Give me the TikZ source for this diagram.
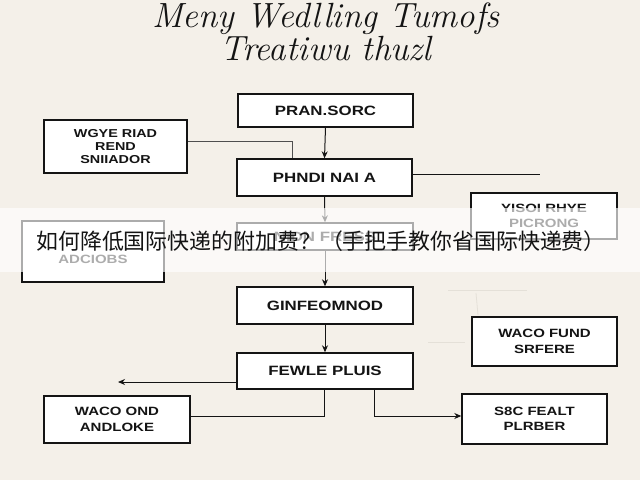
\documentclass[tikz,border=0pt]{standalone}
\usepackage{fontspec}
\newfontfamily\boxfont[FakeStretch=1.25]{Liberation Sans Bold}
\newfontfamily\cjkfont{Noto Sans CJK SC}
\usetikzlibrary{arrows.meta}
\definecolor{bgcream}{RGB}{244,240,233}
\definecolor{inkc}{RGB}{20,20,20}
\definecolor{faintc}{RGB}{228,224,216}
\begin{document}
\begin{tikzpicture}[x=1pt,y=-1pt,
  box/.style={draw=inkc, line width=1.4pt, fill=white, inner sep=0pt, align=center, text=inkc},
  onebox/.style={box, font=\boxfont\fontsize{13.5}{15}\selectfont},
  twobox/.style={box, font=\boxfont\fontsize{12}{15.5}\selectfont},
  conn/.style={draw=inkc, line width=1pt},
  arr/.style={conn, -{Stealth[length=7pt,width=6pt]}},
  faint/.style={draw=faintc, line width=0.8pt}]
\fill[bgcream] (0,0) rectangle (640,480);
\useasboundingbox (0,0) rectangle (640,480);

% title
\node[anchor=base, align=center, inner sep=0pt, font=\itshape\fontsize{35}{31}\selectfont, text=inkc] (title) at (326,60) {Meny Wedlling Tumofs\\Treatiwu thuzl};

% boxes
\node[onebox, minimum width=175pt, minimum height=33pt] (b1) at (325.5,110.5) {PRAN.SORC};
\node[onebox, minimum width=175pt, minimum height=37pt] (b2) at (324.5,177.5) {PHNDI NAI A};
\node[twobox, minimum width=143pt, minimum height=53pt, font=\boxfont\fontsize{11.5}{13}\selectfont] (bL1) at (115.5,146.5) {WGYE RIAD\\REND\\SNIIADOR};
\node[twobox, minimum width=146pt, minimum height=46pt] (bR1) at (544,216) {YISOI RHYE\\PICRONG};
\node[onebox, minimum width=176pt, minimum height=27pt] (b3) at (325,236.5) {NIDN FRESS};
\node[twobox, minimum width=142pt, minimum height=61pt, text depth=0pt] (bL2) at (93,251.5) {\vphantom{A}\\ADCIOBS};
\node[onebox, minimum width=176pt, minimum height=37pt] (b4) at (325,305.5) {GINFEOMNOD};
\node[twobox, minimum width=145pt, minimum height=49pt] (bR2) at (544.5,341.5) {WACO FUND\\SRFERE};
\node[onebox, minimum width=176pt, minimum height=36pt] (b5) at (325,371) {FEWLE PLUIS};
\node[twobox, minimum width=146pt, minimum height=47pt] (b6) at (117,419.5) {WACO OND\\ANDLOKE};
\node[twobox, minimum width=145pt, minimum height=50pt] (b7) at (534.5,419) {S8C FEALT\\PLRBER};

% connectors
\draw[arr] (b1.south) -- (b2.north);
\draw[conn, draw=inkc!75] (bL1.east |- 0,141) -- (292,141) -- (292,0 |- b2.north);
\coordinate (e2) at (540,174);
\draw[conn] (b2.east |- e2) -- (e2);
\draw[arr] (b2.south) -- (b3.north);
\draw[arr] (b3.south) -- (b4.north);
\draw[arr] (b4.south) -- (b5.north);
\coordinate (lw) at (118,382);
\draw[arr] (b5.west |- lw) -- (lw);
\draw[conn] (324,0 |- b5.south) -- (324,416) -- (b6.east |- 0,416);
\draw[arr] (374,0 |- b5.south) -- (374,416) -- (b7.west |- 0,416);

% faint artefacts
\coordinate (f1) at (448,290); \coordinate (f2) at (527,290);
\coordinate (f3) at (476,293); \coordinate (f4) at (478,315);
\coordinate (f5) at (428,342); \coordinate (f6) at (465,342);
\draw[faint] (f1) -- (f2);
\draw[faint] (f3) -- (f4);
\draw[faint] (f5) -- (f6);

% banner
\fill[white, opacity=0.65] (0,208) rectangle (640,272);
\node[font=\cjkfont\fontsize{21.9}{24}\selectfont, text=inkc, inner sep=0pt] (ban) at (321,241) {如何降低国际快递的附加费？（手把手教你省国际快递费）};
\end{tikzpicture}
\end{document}
